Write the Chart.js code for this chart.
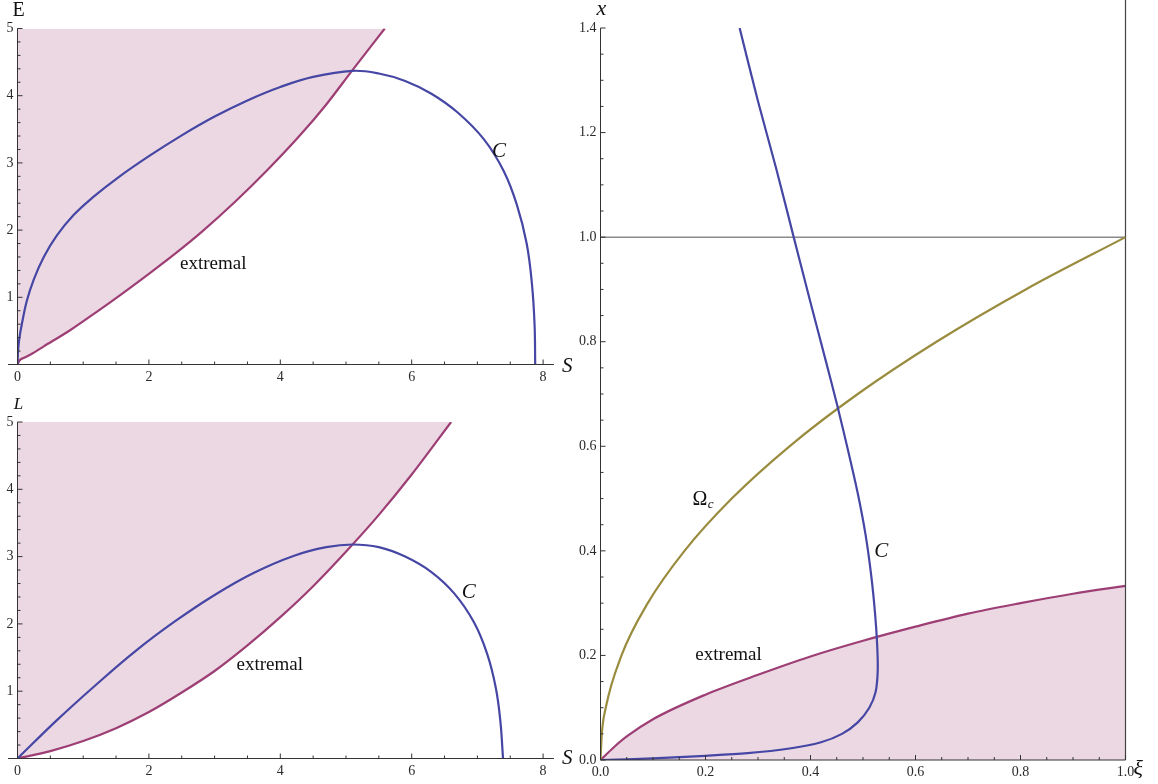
<!DOCTYPE html>
<html>
<head>
<meta charset="utf-8">
<title>C and extremal curves</title>
<script src="https://cdn.jsdelivr.net/npm/chart.js@4.4.1/dist/chart.umd.min.js"></script>
<style>
  html, body { margin: 0; padding: 0; background: #ffffff; }
  #wrap { position: relative; width: 1158px; height: 784px; }
  #wrap canvas { position: absolute; left: 0; top: 0; }
</style>
</head>
<body>
<div id="wrap">
  <canvas id="chartE" width="1158" height="784"></canvas>
  <canvas id="chartL" width="1158" height="784"></canvas>
  <canvas id="chartX" width="1158" height="784"></canvas>
</div>
<script>
const AXIS = '#333333';
const BLUE = '#4646a4';
const MAGENTA = '#9d3e74';
const OLIVE = '#9a8c3e';
const FILL = 'rgba(157,62,116,0.2)';
const GRAY = '#8a8a8a';
const SERIF = '"Liberation Serif", "DejaVu Serif", serif';

// ---- S / E panel ----
const eTicksS = [0, 2, 4, 6, 8];
const eTicksE = [1, 2, 3, 4, 5];
const eCurveC = [
  [0, 0], [0.01, 0.22], [0.03, 0.4], [0.07, 0.62], [0.14, 0.94], [0.25, 1.27], [0.4, 1.6],
  [0.6, 1.92], [0.85, 2.22], [1.15, 2.49], [1.5, 2.76], [2.0, 3.1], [2.5, 3.41], [3.0, 3.69],
  [3.5, 3.93], [4.0, 4.13], [4.5, 4.28], [5.1, 4.37], [5.5, 4.33], [5.9, 4.22], [6.3, 4.03],
  [6.7, 3.75], [7.1, 3.35], [7.4, 2.88], [7.6, 2.38], [7.75, 1.8], [7.83, 1.2], [7.87, 0.6],
  [7.88, 0]
];
const eExtremal = [
  [0, 0], [0.03, 0.06], [0.1, 0.1], [0.2, 0.15], [0.4, 0.27], [0.8, 0.51], [1.2, 0.78],
  [1.6, 1.06], [2.0, 1.35], [2.4, 1.65], [2.8, 1.97], [3.3, 2.41], [3.8, 2.89], [4.3, 3.41],
  [4.7, 3.87], [5.09, 4.37], [5.59, 5.0]
];

// ---- S / L panel ----
const lTicksS = [0, 2, 4, 6, 8];
const lTicksL = [1, 2, 3, 4, 5];
const lCurveC = [
  [0, 0], [0.6, 0.57], [1.2, 1.1], [1.8, 1.6], [2.4, 2.04], [3.0, 2.43], [3.6, 2.76],
  [4.2, 3.01], [4.7, 3.14], [5.1, 3.18], [5.5, 3.14], [5.9, 3.0], [6.3, 2.77], [6.65, 2.45],
  [6.95, 2.02], [7.15, 1.55], [7.28, 1.05], [7.35, 0.55], [7.39, 0]
];
const lExtremal = [
  [0, 0], [0.5, 0.11], [1.0, 0.26], [1.5, 0.45], [2.0, 0.69], [2.5, 0.98], [3.0, 1.3],
  [3.5, 1.68], [4.0, 2.1], [4.5, 2.56], [5.1, 3.18], [5.5, 3.62], [6.0, 4.22], [6.6, 5.0]
];

// ---- xi / x panel ----
const xTicksXi = [0, 0.2, 0.4, 0.6, 0.8, 1.0];
const xTicksX = [0, 0.2, 0.4, 0.6, 0.8, 1.0, 1.2, 1.4];
const xCurveC = [
  [0.265, 1.4], [0.30, 1.26], [0.335, 1.13], [0.368, 1.0], [0.40, 0.875], [0.43, 0.76],
  [0.451, 0.678], [0.472, 0.59], [0.49, 0.51], [0.505, 0.43], [0.516, 0.35], [0.523, 0.28],
  [0.527, 0.22], [0.528, 0.17], [0.524, 0.13], [0.512, 0.1], [0.49, 0.072], [0.46, 0.05],
  [0.42, 0.034], [0.36, 0.022], [0.28, 0.013], [0.2, 0.008], [0.1, 0.003], [0, 0]
];
const xOmegaC = [
  [0, 0], [0.0025, 0.05], [0.01, 0.1], [0.04, 0.2], [0.09, 0.3], [0.16, 0.4], [0.25, 0.5],
  [0.36, 0.6], [0.49, 0.7], [0.64, 0.8], [0.81, 0.9], [1.0, 1.0]
];
const xExtremal = [
  [0, 0], [0.025, 0.024], [0.05, 0.045], [0.1, 0.078], [0.2, 0.125], [0.3, 0.163], [0.4, 0.198],
  [0.5, 0.228], [0.6, 0.255], [0.7, 0.28], [0.8, 0.30], [0.9, 0.318], [1.0, 0.333]
];
const xUnitLine = [[0, 1], [1, 1]];
const xEdgeLine = [[1, 0], [1, 1.46]];

const pts = arr => arr.map(([a, b]) => ({ x: a, y: b }));

// curves that are single-valued in the horizontal variable use monotone splines
function curve(data, color, extra) {
  return Object.assign({
    data: pts(data), showLine: true, borderColor: color, borderWidth: 2.2,
    pointRadius: 0, fill: false, cubicInterpolationMode: 'monotone'
  }, extra || {});
}
const smooth = { cubicInterpolationMode: 'default', tension: 0.4 };
const straight = { cubicInterpolationMode: 'default', tension: 0 };

// axis lines, inward ticks, titles and in-plot labels
function framePlugin(spec) {
  const ticksAlong = (max, minor, major, cb) => {
    for (let i = 0; i * minor <= max + 1e-9; i++) {
      const v = i * minor;
      const r = v / major;
      cb(v, Math.abs(r - Math.round(r)) < 1e-6);
    }
  };
  return {
    id: 'frame',
    afterDatasetsDraw(chart) {
      const { ctx } = chart;
      const sx = chart.scales.x, sy = chart.scales.y;
      const ox = sx.getPixelForValue(0), oy = sy.getPixelForValue(0);
      ctx.save();
      ctx.strokeStyle = AXIS;
      ctx.lineWidth = 1;
      ctx.beginPath();
      ctx.moveTo(ox - spec.xAxisOverhang, oy);
      ctx.lineTo(sx.right, oy);
      ctx.moveTo(ox, oy);
      ctx.lineTo(ox, sy.top);
      ticksAlong(sx.max, spec.xMinor, spec.xMajor, (v, major) => {
        const px = sx.getPixelForValue(v);
        ctx.moveTo(px, oy);
        ctx.lineTo(px, oy - (major ? 5 : 3));
      });
      ticksAlong(sy.max, spec.yMinor, spec.yMajor, (v, major) => {
        const py = sy.getPixelForValue(v);
        ctx.moveTo(ox, py);
        ctx.lineTo(ox + (major ? 5 : 3), py);
      });
      ctx.stroke();
      ctx.restore();
    },
    afterDraw(chart) {
      const { ctx } = chart;
      const sx = chart.scales.x, sy = chart.scales.y;
      const ox = sx.getPixelForValue(0), oy = sy.getPixelForValue(0);
      ctx.save();
      ctx.fillStyle = '#111111';
      ctx.textBaseline = 'alphabetic';
      // axis titles
      ctx.font = spec.yTitle.font;
      ctx.textAlign = 'center';
      ctx.fillText(spec.yTitle.text, ox + 1, sy.top - 13);
      ctx.font = spec.xTitle.font;
      ctx.textAlign = 'left';
      ctx.fillText(spec.xTitle.text, sx.right + 8, oy + spec.xTitle.dy);
      // labels inside the plot
      spec.notes.forEach(n => {
        ctx.font = n.font;
        ctx.textAlign = n.align;
        const px = sx.getPixelForValue(n.at[0]);
        const py = sy.getPixelForValue(n.at[1]);
        ctx.fillText(n.text, px, py);
        if (n.sub) {
          const w = ctx.measureText(n.text).width;
          ctx.font = n.subFont;
          ctx.textAlign = 'left';
          ctx.fillText(n.sub, px + w + 0.5, py + 3);
        }
      });
      ctx.restore();
    }
  };
}

function makeChart(id, spec) {
  return new Chart(document.getElementById(id), {
    type: 'scatter',
    data: { datasets: spec.datasets },
    options: {
      responsive: false,
      animation: false,
      events: [],
      layout: { padding: spec.padding },
      plugins: { legend: { display: false }, tooltip: { enabled: false } },
      scales: {
        x: {
          type: 'linear', min: 0, max: spec.xMax, bounds: 'data',
          grid: { display: false, drawTicks: false }, border: { display: false },
          ticks: {
            autoSkip: false, maxRotation: 0, padding: 4, color: '#2a2a2a',
            font: { family: SERIF, size: 14 }, callback: spec.fmt
          },
          afterBuildTicks: s => { s.ticks = spec.xTicks.map(v => ({ value: v })); },
          afterFit: s => { s.height = 20; }
        },
        y: {
          type: 'linear', min: 0, max: spec.yMax, bounds: 'data',
          grid: { display: false, drawTicks: false }, border: { display: false },
          ticks: {
            autoSkip: false, padding: 4, color: '#2a2a2a',
            font: { family: SERIF, size: 14 }, callback: spec.fmt
          },
          afterBuildTicks: s => { s.ticks = spec.yTicks.map(v => ({ value: v })); },
          afterFit: s => { s.width = spec.yWidth; }
        }
      }
    },
    plugins: [framePlugin(spec)]
  });
}

const plain = v => String(v);
const oneDecimal = v => v.toFixed(1);

makeChart('chartE', {
  padding: { left: 0, top: 28.5, right: 604, bottom: 784 - 364.5 - 20 },
  yWidth: 17.5, xMax: 8.166, yMax: 5, xTicks: eTicksS, yTicks: eTicksE, fmt: plain,
  xMinor: 0.5, xMajor: 2, yMinor: 0.2, yMajor: 1, xAxisOverhang: 9.5,
  yTitle: { text: 'E', font: '20px ' + SERIF },
  xTitle: { text: 'S', font: 'italic 21px ' + SERIF, dy: 7.5 },
  notes: [
    { text: 'extremal', at: [2.98, 1.42], font: '19px ' + SERIF, align: 'center' },
    { text: 'C', at: [7.33, 3.09], font: 'italic 21px ' + SERIF, align: 'center' }
  ],
  datasets: [
    curve(eCurveC, BLUE, smooth),
    curve(eExtremal, MAGENTA, { fill: 'end', backgroundColor: FILL })
  ]
});

makeChart('chartL', {
  padding: { left: 0, top: 422, right: 604, bottom: 784 - 758.5 - 20 },
  yWidth: 17.5, xMax: 8.166, yMax: 5, xTicks: lTicksS, yTicks: lTicksL, fmt: plain,
  xMinor: 0.5, xMajor: 2, yMinor: 0.2, yMajor: 1, xAxisOverhang: 9.5,
  yTitle: { text: 'L', font: 'italic 17px ' + SERIF },
  xTitle: { text: 'S', font: 'italic 21px ' + SERIF, dy: 5 },
  notes: [
    { text: 'extremal', at: [3.84, 1.31], font: '19px ' + SERIF, align: 'center' },
    { text: 'C', at: [6.87, 2.38], font: 'italic 21px ' + SERIF, align: 'center' }
  ],
  datasets: [
    curve(lCurveC, BLUE, smooth),
    curve(lExtremal, MAGENTA, { fill: 'end', backgroundColor: FILL })
  ]
});

makeChart('chartX', {
  padding: { left: 600.5 - 30, top: 28, right: 1158 - 1125.5, bottom: 784 - 760 - 20 },
  yWidth: 30, xMax: 1.0, yMax: 1.4, xTicks: xTicksXi, yTicks: xTicksX, fmt: oneDecimal,
  xMinor: 0.05, xMajor: 0.2, yMinor: 0.05, yMajor: 0.2, xAxisOverhang: 0,
  yTitle: { text: 'x', font: 'italic 22px ' + SERIF },
  xTitle: { text: 'ξ', font: 'italic 22px ' + SERIF, dy: 15 },
  notes: [
    { text: 'Ω', sub: 'c', at: [0.175, 0.488], font: '20px ' + SERIF, subFont: 'italic 13px ' + SERIF, align: 'left' },
    { text: 'C', at: [0.535, 0.388], font: 'italic 21px ' + SERIF, align: 'center' },
    { text: 'extremal', at: [0.244, 0.191], font: '19px ' + SERIF, align: 'center' }
  ],
  datasets: [
    // C turns back in xi, so it keeps an ordinary tension spline
    curve(xCurveC, BLUE, { cubicInterpolationMode: 'default', tension: 0.3 }),
    curve(xOmegaC, OLIVE),
    curve(xUnitLine, GRAY, Object.assign({ borderWidth: 1.5 }, straight)),
    // the frame line at xi = 1 runs up past the top of the plot
    curve(xEdgeLine, '#444444', Object.assign({ borderWidth: 1.2, clip: false }, straight)),
    curve(xExtremal, MAGENTA, { fill: 'origin', backgroundColor: FILL })
  ]
});
</script>
</body>
</html>
